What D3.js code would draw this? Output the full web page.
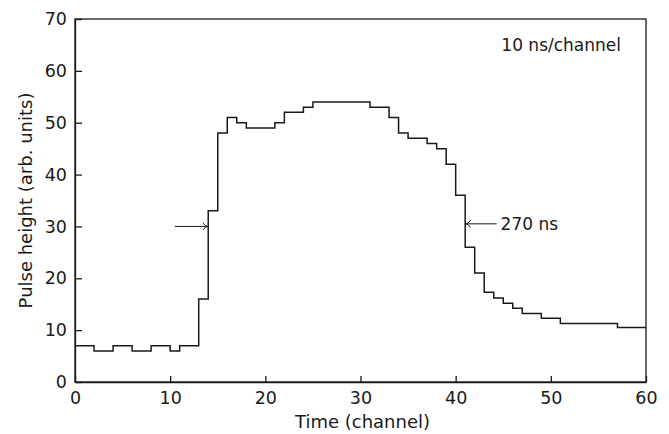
<!DOCTYPE html>
<html><head><meta charset="utf-8">
<script src="https://cdn.jsdelivr.net/npm/d3@7"></script>
<style>body{margin:0;background:#fff}svg{display:block}</style>
</head><body>
<script>
// Data: pulse height per channel (step histogram, channel i spans [i, i+1))
const channels = d3.range(0, 60);
const pulseHeight = [
  7,7,6,6,7,7,6,6,7,7,
  6,7,7,16,33,48,51,50,49,49,
  49,50,52,52,53,54,54,54,54,54,
  54,53,53,51,48,47,47,46,45,42,
  36,26,21,17.3,16.2,15.2,14.2,13.2,13.2,12.3,
  12.3,11.3,11.3,11.3,11.3,11.3,11.3,10.5,10.5,10.5
];
const xTicks = [0,10,20,30,40,50,60];
const yTicks = [0,10,20,30,40,50,60,70];
const xLabel = "Time (channel)";
const yLabel = "Pulse height (arb. units)";
const noteText = "10 ns/channel";
const arrowLeft = {x0: 10.5, x1: 13.95, y: 30};
const arrowRight = {x0: 44.3, x1: 41.05, y: 30.5, label: "270 ns"};

const W = 669, H = 434;
const svg = d3.select("body").append("svg").attr("width", W).attr("height", H);
const x = d3.scaleLinear().domain([0, 60]).range([75, 646]);
const y = d3.scaleLinear().domain([0, 70]).range([382, 19]);
const ink = "#1a1a1a";
const font = "DejaVu Sans, sans-serif";

// frame
svg.append("rect").attr("x", x(0)).attr("y", y(70))
  .attr("width", x(60) - x(0)).attr("height", y(0) - y(70))
  .attr("fill", "none").attr("stroke", ink).attr("stroke-width", 1.3);

// axes
const xAxis = d3.axisBottom(x).tickValues(xTicks).tickSizeInner(-6).tickSizeOuter(0).tickPadding(10);
const gx = svg.append("g").attr("transform", `translate(0,${y(0)})`).call(xAxis);
const yAxis = d3.axisLeft(y).tickValues(yTicks).tickSizeInner(-7).tickSizeOuter(0).tickPadding(8);
const gy = svg.append("g").attr("transform", `translate(${x(0)},0)`).call(yAxis);
[gx, gy].forEach(g => {
  g.select(".domain").attr("stroke", ink).attr("stroke-width", 1.3);
  g.selectAll(".tick line").attr("stroke", ink).attr("stroke-width", 1.3);
  g.selectAll(".tick text").attr("fill", ink).attr("font-family", font).attr("font-size", 17.5);
});

// axis titles
svg.append("text").attr("x", (x(0) + x(60)) / 2 + 2).attr("y", 428)
  .attr("text-anchor", "middle").attr("font-family", font).attr("font-size", 18)
  .attr("fill", ink).text(xLabel);
svg.append("text").attr("transform", `translate(32,${(y(0) + y(70)) / 2}) rotate(-90)`)
  .attr("text-anchor", "middle").attr("font-family", font).attr("font-size", 18)
  .attr("fill", ink).text(yLabel);

// step line
const pts = channels.map((c, i) => [c, pulseHeight[i]]);
pts.push([60, pulseHeight[pulseHeight.length - 1]]);
const line = d3.line().x(d => x(d[0])).y(d => y(d[1])).curve(d3.curveStepAfter);
svg.append("path").attr("d", line(pts)).attr("fill", "none")
  .attr("stroke", ink).attr("stroke-width", 1.5);

// arrows
function arrow(a) {
  const x0 = x(a.x0), x1 = x(a.x1), yy = y(a.y);
  const dir = Math.sign(x1 - x0);
  svg.append("line").attr("x1", x0).attr("x2", x1).attr("y1", yy).attr("y2", yy)
    .attr("stroke", ink).attr("stroke-width", 1);
  svg.append("path")
    .attr("d", `M${x1 - dir * 5},${yy - 3.5} Q${x1 - dir * 2},${yy} ${x1},${yy} Q${x1 - dir * 2},${yy} ${x1 - dir * 5},${yy + 3.5}`)
    .attr("fill", "none").attr("stroke", ink).attr("stroke-width", 1);
}
arrow(arrowLeft);
arrow(arrowRight);
svg.append("text").attr("x", x(arrowRight.x0) + 4).attr("y", y(arrowRight.y) + 6)
  .attr("font-family", font).attr("font-size", 17).attr("fill", ink).text(arrowRight.label);

// note
svg.append("text").attr("x", 621).attr("y", 51).attr("text-anchor", "end")
  .attr("font-family", font).attr("font-size", 17).attr("fill", ink).text(noteText);
</script>
</body></html>
